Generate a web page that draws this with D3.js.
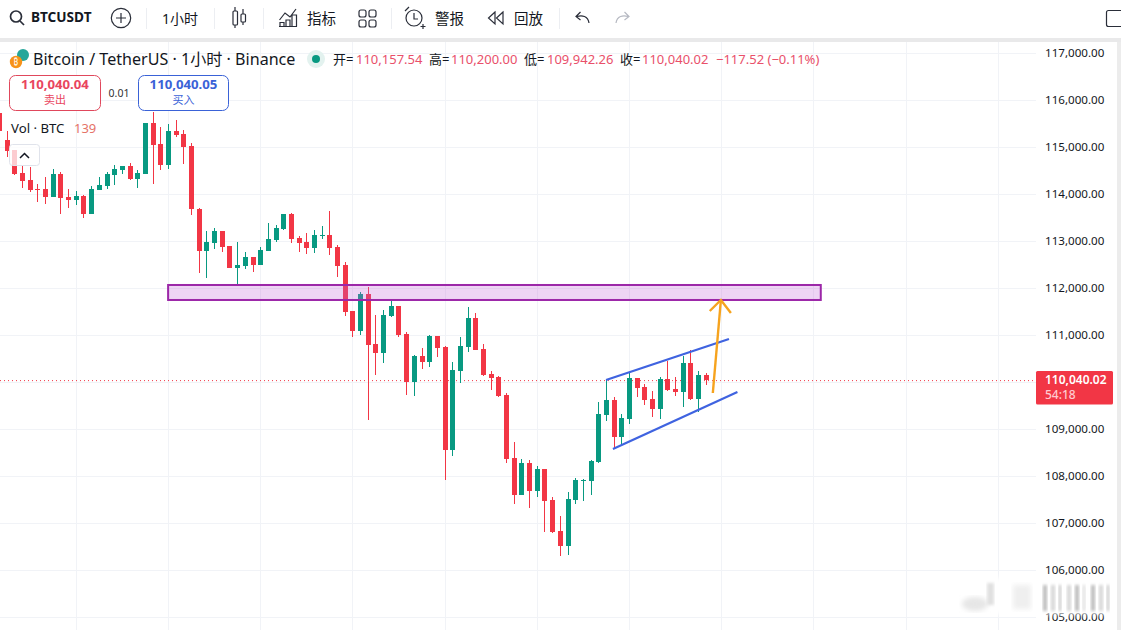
<!DOCTYPE html>
<html><head><meta charset="utf-8">
<style>
html,body{margin:0;padding:0;background:#fff;overflow:hidden}
svg{display:block}
text{font-family:"Noto Sans","Noto Sans CJK SC",sans-serif}
</style>
<script src="https://cdn.jsdelivr.net/npm/d3@7/dist/d3.min.js"></script>
</head><body><svg id="c" width="1121" height="630"></svg>
<script>
const opens=[115723,115149,114936,114447,114298,114106,114106,113936,114426,113936,113872,113957,113574,114085,114170,114404,114511,114596,114319,114426,115511,115064,114617,115340,115277,115021,113681,112787,112957,113213,112894,112426,112468,112660,112489,112787,113021,113255,113574,113064,112979,112851,113106,113128,112872,112489,111511,111085,111872,110809,110617,111404,111617,111021,110000,110553,110426,110979,110745,108553,110234,110745,111362,110702,110170,110106,109723,108383,107596,108277,107681,108149,107489,106830,106511,107489,107894,107894,108298,109298,109617,108830,109213,110085,109894,109638,109426,110064,109851,109787,110404,109638,110157.54];
const highs=[115723,115340,114936,114596,114575,114213,114362,114532,114468,114106,114064,113979,114170,114362,114468,114617,114596,114660,114511,115511,115745,115426,115489,115574,115362,115085,113702,113213,113277,113213,112894,112979,112766,112660,112872,113383,113340,113574,113596,113106,113170,113234,113319,113638,112915,112553,111511,111915,112021,111426,111532,111766,111617,111064,110574,110723,111000,110979,110766,110426,110957,111596,111468,110809,110234,110128,109766,108723,108362,108340,108213,108149,107553,107149,107660,107957,107936,108340,109574,110043,109681,109319,110191,110085,109957,109809,110106,110447,110106,110553,110681,110234,110200];
const lows=[115340,114787,114404,114128,114043,113830,113787,113936,113574,113702,113766,113489,113574,114085,114106,114191,114426,114298,114128,114426,114213,114511,114532,115213,114638,113553,112319,112213,112830,112766,112426,112064,112404,112340,112489,112787,112979,113234,112957,112766,112723,112745,113043,112702,112234,111404,110957,111000,109191,110149,110404,111383,110957,109723,109702,110277,110319,110532,107915,108426,109979,110638,110681,110128,109830,109681,108277,107404,107596,107319,107553,106809,106787,106298,106319,107404,107468,107596,108277,109170,108574,108638,109106,109681,109511,109255,109213,109809,109702,109468,109617,109362,109942.26];
const closes=[115340,114915,114426,114277,114085,114085,113936,114426,113915,113872,113957,113574,114106,114191,114426,114532,114596,114319,114447,115511,115043,114617,115340,115255,115000,113681,112787,112979,113213,112872,112426,112489,112660,112489,112809,113043,113277,113574,113043,112957,112851,113128,113128,112851,112468,111489,111085,111872,110787,110617,111426,111617,111000,110000,110553,110426,110979,110723,108553,110255,110766,111362,110681,110149,110085,109702,108362,107596,108277,107681,108149,107468,106809,106511,107511,107915,107915,108319,109319,109617,108830,109234,110085,109872,109617,109426,110064,109830,109787,110404,109638,110149,110040.02];
const firstIndex=-1;
const priceTicks=[117000,116000,115000,114000,113000,112000,111000,110000,109000,108000,107000,106000,105000];
const priceLabels=[117000,116000,115000,114000,113000,112000,111000,109000,108000,107000,106000,105000];
const timeGridIndex=[9,21,33,45,57,69,81,93,105,117,129];
const lastPrice=110040.02;
const zone={i0:20.95,i1:105.9,top:112064,bottom:111745};
const channelUpper=[[77.95,110043],[93.95,110915]];
const channelLower=[[78.85,108574],[95.05,109787]];
const arrowStem=[[91.85,109766],[92.9,111745]];
const arrowHead=[[91.45,111511],[92.9,111745],[94.2,111468]];
const toolbarLabels=["1小时","指标","警报","回放"];
const titleText="Bitcoin / TetherUS · 1小时 · Binance";
const ohlc=[["开=","110,157.54"],["高=","110,200.00"],["低=","109,942.26"],["收=","110,040.02"]];
const changeText="−117.52 (−0.11%)";

const W=1121,H=630,green="#089981",red="#f23645";
const svg=d3.select("#c");
const x=d3.scaleLinear().domain([0,91]).range([7.15,706.3]);
const y=d3.scaleLinear().domain([117000,105000]).range([53,617]);
const candles=opens.map((o,k)=>({i:k+firstIndex,o,h:highs[k],l:lows[k],c:closes[k]}));

svg.append("rect").attr("width",W).attr("height",H).attr("fill","#fff");
// grid
const g=svg.append("g").attr("shape-rendering","crispEdges").attr("stroke","#f1f3f7");
g.selectAll("line.h").data(priceTicks).join("line").attr("x1",0).attr("x2",1036)
 .attr("y1",d=>Math.round(y(d))+.5).attr("y2",d=>Math.round(y(d))+.5);
g.selectAll("line.v").data(timeGridIndex).join("line").attr("y1",42).attr("y2",H)
 .attr("x1",d=>Math.floor(x(d))+.5).attr("x2",d=>Math.floor(x(d))+.5);

// dotted last price
svg.append("line").attr("x1",0).attr("x2",1036).attr("y1",y(lastPrice)+.5).attr("y2",y(lastPrice)+.5)
 .attr("stroke",red).attr("stroke-width",1).attr("stroke-dasharray","1 3");

// candles
const cg=svg.append("g").attr("shape-rendering","crispEdges");
cg.selectAll("rect.w").data(candles).join("rect")
 .attr("x",d=>Math.floor(x(d.i))).attr("width",1)
 .attr("y",d=>y(d.h)).attr("height",d=>y(d.l)-y(d.h))
 .attr("fill",d=>d.c>=d.o?green:red);
cg.selectAll("rect.b").data(candles).join("rect")
 .attr("x",d=>Math.floor(x(d.i))-2).attr("width",5)
 .attr("y",d=>y(Math.max(d.o,d.c))).attr("height",d=>Math.max(1,Math.abs(y(d.o)-y(d.c))))
 .attr("fill",d=>d.c>=d.o?green:red);

// zone
svg.append("rect").attr("x",x(zone.i0)).attr("y",y(zone.top)).attr("width",x(zone.i1)-x(zone.i0))
 .attr("height",y(zone.bottom)-y(zone.top)).attr("fill","#c060d8").attr("fill-opacity",.27)
 .attr("stroke","#9c27a8").attr("stroke-width",2);

// drawings
const ln=d3.line().x(d=>x(d[0])).y(d=>y(d[1]));
[channelUpper,channelLower].forEach(p=>svg.append("path").attr("d",ln(p)).attr("fill","none").attr("stroke","#3f63e0").attr("stroke-width",2.2));
[arrowStem,arrowHead].forEach(p=>svg.append("path").attr("d",ln(p)).attr("fill","none").attr("stroke","#f6a31e").attr("stroke-width",2.4));

// price axis
const axis=d3.axisRight(y).tickValues(priceLabels).tickSize(0).tickPadding(0).tickFormat(d3.format(",.2f"));
const ag=svg.append("g").attr("transform","translate(1045,-0.6)").call(axis);
ag.select(".domain").remove();
ag.selectAll("text").attr("font-size",11.6).attr("fill","#131722").style("font-family","'Noto Sans',sans-serif");

// watermark
const defs=svg.append("defs");
defs.append("filter").attr("id","bl").append("feGaussianBlur").attr("stdDeviation",2.6);
defs.append("filter").attr("id","bl2").append("feGaussianBlur").attr("stdDeviation",1.4);
const wm=svg.append("g");
wm.append("rect").attr("x",960).attr("y",578).attr("width",152).attr("height",36).attr("fill","#fff").attr("filter","url(#bl)");
wm.append("ellipse").attr("cx",975).attr("cy",604).attr("rx",13).attr("ry",7).attr("fill","#e6e6e6").attr("filter","url(#bl)");
wm.append("rect").attr("x",987).attr("y",583).attr("width",7).attr("height",22).attr("fill","#e0e0e0").attr("filter","url(#bl2)");
wm.append("rect").attr("x",1013).attr("y",585).attr("width",18).attr("height",24).attr("fill","#efefef").attr("filter","url(#bl)");
d3.range(1043,1108,8).forEach((bx,k)=>wm.append("rect").attr("x",bx).attr("y",585).attr("width",k%3==2?2:4).attr("height",26).attr("fill",k%2?"#c4c4c4":"#a0a0a0").attr("opacity",.7).attr("filter","url(#bl2)"));

// last price label
svg.append("rect").attr("x",1036).attr("y",371).attr("width",77).attr("height",33.5).attr("rx",1.5).attr("fill",red);
const T=(s,xp,yp,size,fill,o={})=>{const t=svg.append("text").attr("x",xp).attr("y",yp).attr("font-size",size).attr("fill",fill).text(s);
 if(o.w)t.attr("font-weight",o.w); if(o.a)t.attr("text-anchor",o.a); return t;};
T("110,040.02",1045,384,12,"#fff",{w:600});
T("54:18",1045,399,12,"#ffc9cf",{w:500});

// chrome
svg.append("rect").attr("x",0).attr("y",38).attr("width",W).attr("height",4).attr("fill","#e9e9ea");
svg.append("rect").attr("x",1117).attr("y",42).attr("width",4).attr("height",H-42).attr("fill","#ececec");
svg.append("rect").attr("x",0).attr("y",0).attr("width",W).attr("height",38).attr("fill","#fff");

const ic=svg.append("g").attr("fill","none").attr("stroke","#2a2e39").attr("stroke-width",1.2);
// search
ic.append("circle").attr("cx",16).attr("cy",16.5).attr("r",5.5).attr("stroke-width",1.7);
ic.append("path").attr("d","M20 21L24 25").attr("stroke-width",1.7);
// plus
ic.append("circle").attr("cx",121).attr("cy",18).attr("r",9.7);
ic.append("path").attr("d","M116 18H126M121 13V23");
// dividers
[146.5,214.5,263.5,391.5,559.5].forEach(dx=>svg.append("line").attr("x1",dx).attr("x2",dx).attr("y1",8).attr("y2",29).attr("stroke","#eceef2"));
// candle icon
ic.append("rect").attr("x",233).attr("y",11).attr("width",4.5).attr("height",14).attr("rx",1);
ic.append("path").attr("d","M235 7V11M235 25V28M243 9V14M243 22V25");
ic.append("rect").attr("x",241).attr("y",14).attr("width",4.5).attr("height",8).attr("rx",1);
// indicators
ic.append("path").attr("d","M279.5 20L285 13L290 17L296 9M280 26.5V22.5H284V26.5M286 26.5V20H290V26.5M292 26.5V15H296.5V26.5M279 26.5H297");
// four squares
[[359,10],[369,10],[359,20],[369,20]].forEach(p=>ic.append("rect").attr("x",p[0]).attr("y",p[1]).attr("width",7).attr("height",7).attr("rx",2));
// alarm
ic.append("circle").attr("cx",414).attr("cy",18).attr("r",8);
ic.append("path").attr("d","M414 13V19H418M405 11L409 7M423 24V29M420.5 26.5H425.5");
// replay
ic.append("path").attr("d","M495 12L488.5 18L495 24ZM503 12L496.5 18L503 24Z");
// undo / redo
ic.append("path").attr("d","M589 23C588 16 582 15 577 16.5M580.5 12L576 16.5L580.5 20");
svg.append("path").attr("d","M616 23C617 16 623 15 628 16.5M624.5 12L629 16.5L624.5 20").attr("fill","none").attr("stroke","#b6b9c2").attr("stroke-width",1.2);
// corner icon
svg.append("rect").attr("x",1106.5).attr("y",10.5).attr("width",20).attr("height",16).attr("rx",2).attr("fill","none").attr("stroke","#2a2e39").attr("stroke-width",1.2);

T("BTCUSDT",31,22,13.6,"#131722",{w:700});
T(toolbarLabels[0],162,24,14,"#131722");
T(toolbarLabels[1],307,24,14.5,"#131722");
T(toolbarLabels[2],435,24,14.5,"#131722");
T(toolbarLabels[3],514,24,14.5,"#131722");

// title
svg.append("circle").attr("cx",23).attr("cy",55).attr("r",6).attr("fill","#26a69a");
svg.append("circle").attr("cx",16).attr("cy",62).attr("r",6.2).attr("fill","#f7931a");
T("₿",13.5,65,8,"#fff");
T(titleText,33,65,16.1,"#131722");
svg.append("circle").attr("cx",316).attr("cy",59).attr("r",9).attr("fill","#e3f2ef");
svg.append("circle").attr("cx",316).attr("cy",59).attr("r",4).attr("fill",green);
const txs=[[333,356],[429,451],[524,547],[620,642]];
ohlc.forEach((p,k)=>{T(p[0],txs[k][0],64,13,"#131722");T(p[1],txs[k][1],64,13,"#e9506a");});
T(changeText,716,64,13,"#e9506a");

// buy / sell
svg.append("rect").attr("x",9.5).attr("y",75.5).attr("width",91).attr("height",35).attr("rx",6).attr("fill","#fff").attr("stroke","#e0485c");
svg.append("rect").attr("x",138.5).attr("y",75.5).attr("width",90).attr("height",35).attr("rx",6).attr("fill","#fff").attr("stroke","#3a62d7");
T("110,040.04",55,89,13.2,"#e9455e",{w:700,a:"middle"});
T("卖出",55,104,11,"#e9455e",{a:"middle"});
T("110,040.05",183.5,89,13.2,"#3a62d7",{w:700,a:"middle"});
T("买入",183.5,104,11,"#3a62d7",{a:"middle"});
T("0.01",119,97,10.5,"#333",{a:"middle"});
T("Vol · BTC",11,133,13.2,"#131722");
T("139",74,133,13,"#e57368");

svg.append("rect").attr("x",9.5).attr("y",144.5).attr("width",30).attr("height",21).attr("rx",3).attr("fill","#fff").attr("fill-opacity",.75).attr("stroke","#e0e3eb");
svg.append("path").attr("d","M20 158L24.5 153.5L29 158").attr("fill","none").attr("stroke","#131722").attr("stroke-width",1.5);
</script></body></html>
